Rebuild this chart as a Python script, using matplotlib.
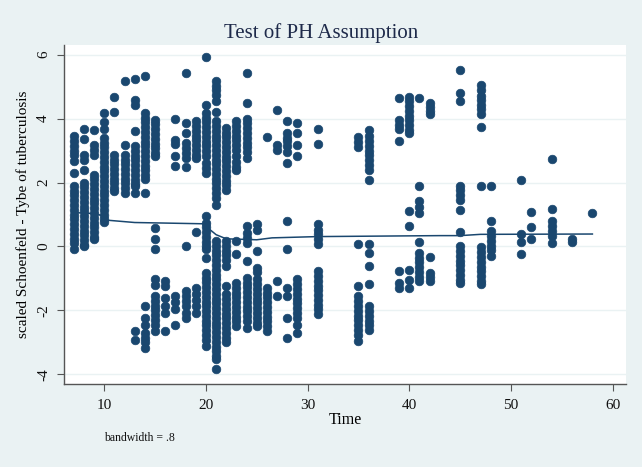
import matplotlib
matplotlib.use('Agg')
import matplotlib.pyplot as plt

# event times and the scaled Schoenfeld residuals read at each time
event_times = [7, 8, 9, 10, 11, 12, 13, 14, 15, 16, 17, 18, 19, 20, 21, 22, 23, 24,
               25, 26, 27, 28, 29, 31, 35, 36, 39, 40, 41, 42, 45, 47, 48, 51, 52,
               54, 56, 58]
resid_by_time = [
    [3.45, 3.3, 3.15, 3.0, 2.85, 2.66, 2.3, 1.88, 1.73, 1.6, 1.45, 1.3, 1.15, 1.0,
     0.85, 0.7, 0.55, 0.4, 0.25, 0.11, -0.09],
    [3.68, 3.36, 2.87, 2.72, 2.4, 2.0, 1.85, 1.7, 1.55, 1.4, 1.25, 1.1, 0.95, 0.8,
     0.65, 0.5, 0.35, 0.2, 0.05, 0.0],
    [3.63, 3.16, 3.03, 2.87, 2.25, 2.1, 1.95, 1.8, 1.65, 1.5, 1.35, 1.2, 1.05, 0.9,
     0.75, 0.6, 0.45, 0.3, 0.22],
    [4.16, 3.89, 3.66, 3.4, 3.25, 3.1, 2.95, 2.8, 2.65, 2.5, 2.35, 2.2, 2.05, 1.9,
     1.75, 1.6, 1.45, 1.3, 1.15, 1.0, 0.85, 0.78],
    [4.68, 4.2, 2.87, 2.72, 2.57, 2.42, 2.27, 2.12, 1.97, 1.82, 1.73],
    [5.19, 3.16, 2.87, 2.72, 2.57, 2.42, 2.27, 2.12, 1.97, 1.82, 1.68],
    [5.25, 4.59, 4.44, 3.6, 3.14, 2.99, 2.84, 2.69, 2.54, 2.39, 2.24, 2.09, 1.94,
     1.88, 1.68, -2.65, -2.91],
    [5.34, 4.18, 4.03, 3.88, 3.73, 3.58, 3.43, 3.28, 3.13, 2.98, 2.83, 2.68, 2.53,
     2.38, 2.23, 2.1, 1.66, -1.87, -2.23, -2.44, -2.7, -2.86, -3.0, -3.16],
    [3.97, 3.82, 3.67, 3.52, 3.37, 3.22, 3.07, 2.92, 2.82, 0.58, 0.22, -0.09,
     -1.03, -1.19, -1.55, -1.7, -1.85, -2.0, -2.15, -2.3, -2.45, -2.65],
    [-1.08, -1.24, -1.6, -1.86, -2.07, -2.65],
    [4.0, 3.34, 3.19, 2.84, 2.53, -1.55, -1.75, -1.97, -2.44],
    [5.43, 3.86, 3.55, 3.24, 3.08, 2.93, 2.77, 2.5, 0.01, -1.4, -1.55, -1.7, -1.86,
     -2.07, -2.23],
    [3.92, 3.77, 3.62, 3.47, 3.32, 3.17, 3.02, 2.87, 2.77, 0.46, -1.29, -1.5, -1.66,
     -1.86, -2.07],
    [5.93, 4.44, 4.18, 4.03, 3.88, 3.73, 3.58, 3.43, 3.28, 3.13, 2.98, 2.83, 2.6,
     2.45, 2.3, 0.95, 0.74, 0.6, 0.45, 0.3, 0.15, 0.0, -0.09, -0.35, -0.82, -0.97,
     -1.12, -1.27, -1.42, -1.57, -1.72, -1.87, -2.02, -2.17, -2.32, -2.47, -2.62,
     -2.77, -2.92, -3.11],
    [5.17, 5.02, 4.88, 4.75, 4.55, 4.22, 3.92, 3.77, 3.62, 3.47, 3.32, 3.17, 3.02,
     2.87, 2.72, 2.57, 2.42, 2.27, 2.12, 1.97, 1.82, 1.67, 1.52, 1.31, 0.17, 0.02,
     -0.13, -0.28, -0.43, -0.58, -0.73, -0.88, -1.03, -1.18, -1.33, -1.48, -1.63,
     -1.78, -1.93, -2.08, -2.23, -2.38, -2.53, -2.68, -2.83, -2.98, -3.13, -3.28,
     -3.43, -3.53, -3.84],
    [3.71, 3.56, 3.41, 3.26, 3.11, 2.96, 2.81, 2.66, 2.51, 2.36, 2.21, 2.06, 1.91,
     1.78, 0.17, 0.02, -0.13, -0.28, -0.43, -0.61, -1.24, -1.5, -1.65, -1.8, -1.95,
     -2.1, -2.25, -2.4, -2.55, -2.7, -2.85, -3.0],
    [3.92, 3.77, 3.62, 3.47, 3.32, 3.17, 3.02, 2.82, 2.65, 2.5, 2.4, 0.17, -0.23,
     -1.14, -1.29, -1.44, -1.59, -1.74, -1.89, -2.04, -2.19, -2.34, -2.49],
    [5.43, 4.49, 4.0, 3.85, 3.7, 3.55, 3.4, 3.25, 3.1, 2.95, 2.77, 0.64, 0.43, 0.27,
     0.1, -0.46, -0.98, -1.13, -1.28, -1.43, -1.58, -1.73, -1.88, -2.03, -2.18,
     -2.33, -2.54],
    [0.69, 0.53, -0.14, -0.66, -0.81, -1.03, -1.18, -1.33, -1.48, -1.63, -1.78,
     -1.93, -2.08, -2.23, -2.38, -2.49],
    [3.41, -1.29, -1.44, -1.59, -1.74, -1.89, -2.04, -2.19, -2.34, -2.49, -2.65],
    [4.28, 3.16, 3.03, -1.08, -1.55],
    [3.92, 3.55, 3.4, 3.29, 3.13, 2.97, 2.61, 0.79, -0.09, -1.29, -1.55, -2.23, -2.85],
    [3.86, 3.55, 3.16, 2.82, -1.03, -1.18, -1.33, -1.48, -1.63, -1.78, -1.93, -2.08,
     -2.23, -2.44, -2.72],
    [3.67, 3.19, 0.69, 0.53, 0.38, 0.22, 0.07, -0.77, -0.92, -1.07, -1.22, -1.37,
     -1.52, -1.67, -1.82, -1.97, -2.12],
    [3.41, 3.26, 3.11, 0.07, -1.24, -1.56, -1.71, -1.86, -2.01, -2.16, -2.31, -2.46,
     -2.61, -2.76, -2.96],
    [3.63, 3.45, 3.3, 3.15, 3.0, 2.85, 2.7, 2.55, 2.4, 2.09, 0.07, -0.2, -0.61,
     -1.18, -1.87, -2.02, -2.17, -2.32, -2.47, -2.6],
    [4.63, 3.96, 3.81, 3.66, 3.29, -0.77, -1.14, -1.29],
    [4.69, 4.54, 4.39, 4.24, 4.09, 3.94, 3.79, 3.64, 3.55, 1.1, 0.64, -0.72, -1.04,
     -1.29],
    [4.63, 1.9, 1.41, 1.24, 1.05, 0.14, -0.2, -0.35, -0.5, -0.65, -0.8, -0.95, -1.09],
    [4.49, 4.36, 4.25, 4.13, -0.34, -0.82, -0.95, -1.09],
    [5.53, 4.8, 4.54, 1.9, 1.76, 1.6, 1.45, 1.14, 0.45, 0.01, -0.14, -0.29, -0.44,
     -0.59, -0.74, -0.89, -1.04, -1.14],
    [5.04, 4.88, 4.72, 4.57, 4.41, 4.29, 4.15, 3.73, 1.88, -0.03, -0.18, -0.33,
     -0.48, -0.63, -0.78, -0.93, -1.08, -1.18],
    [1.88, 0.81, 0.48, 0.33, 0.18, 0.03, -0.12, -0.3],
    [2.09, 0.39, 0.13, -0.22],
    [1.07, 0.6, 0.24],
    [2.75, 1.16, 0.79, 0.63, 0.48, 0.32, 0.12],
    [0.24, 0.13],
    [1.05],
]

# smoothed curve (bandwidth .8), read at its knots
smooth_t = [7, 9, 10, 10.4, 13, 19.8, 20.2, 21, 22, 25, 26.5, 31, 43, 45, 47, 58]
smooth_y = [1.06, 1.03, 0.95, 0.82, 0.75, 0.71, 0.58, 0.37, 0.24, 0.21, 0.27, 0.31,
            0.34, 0.34, 0.38, 0.39]

navy = '#1a476f'
bg = '#eaf2f3'

plt.rcParams['font.family'] = ['Liberation Serif', 'DejaVu Serif']

fig = plt.figure(figsize=(6.42, 4.67), dpi=100, facecolor=bg)
ax = fig.add_axes([0.0997, 0.1777, 0.8753, 0.7259])
ax.set_facecolor('white')

xs, ys = [], []
for t, vals in zip(event_times, resid_by_time):
    for v in vals:
        xs.append(t)
        ys.append(v)
ax.plot(xs, ys, 'o', color=navy, markersize=6.2, markeredgewidth=0.5,
        markeredgecolor=navy, zorder=3)
ax.plot(smooth_t, smooth_y, '-', color=navy, linewidth=1.1, zorder=4)

ax.set_xlim(6.05, 61.3)
ax.set_ylim(-4.3, 6.3)
ax.set_xticks([10, 20, 30, 40, 50, 60])
ax.set_yticks([-4, -2, 0, 2, 4, 6])
ax.set_yticklabels(['-4', '-2', '0', '2', '4', '6'], rotation=90, va='center')
ax.grid(axis='y', color=bg, linewidth=1.0)
ax.set_axisbelow(True)
for side in ['top', 'right']:
    ax.spines[side].set_visible(False)
for side in ['left', 'bottom']:
    ax.spines[side].set_color('#555555')
    ax.spines[side].set_linewidth(1.0)
ax.tick_params(direction='out', length=5, color='#555555', labelsize=11,
               labelcolor='#111111')
ax.tick_params(axis='x', pad=6)
ax.tick_params(axis='y', pad=5)

ax.set_xlabel('Time', fontsize=11.5, labelpad=0)
ax.set_ylabel('scaled Schoenfeld - Tybe of tuberculosis', fontsize=11, labelpad=5)
fig.suptitle('Test of PH Assumption', fontsize=15, color='#1e2a4a', y=0.95)
fig.text(0.162, 0.055, 'bandwidth = .8', fontsize=8.5, color='#111111')

fig.savefig('out.png', dpi=100, facecolor=bg)
